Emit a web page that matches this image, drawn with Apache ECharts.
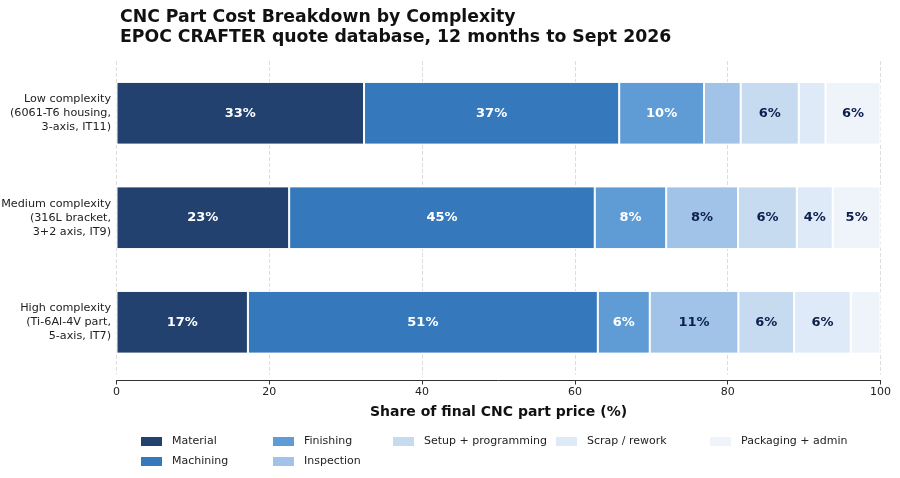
<!DOCTYPE html>
<html>
<head>
<meta charset="utf-8">
<script src="https://cdn.jsdelivr.net/npm/echarts@6/dist/echarts.min.js"></script>
<style>
html,body{margin:0;padding:0;background:#fff;}
#chart{width:900px;height:478px;}
</style>
</head>
<body>
<div id="chart"></div>
<script>
// Categories (top to bottom)
const categories = [
  "Low complexity\n(6061-T6 housing,\n3-axis, IT11)",
  "Medium complexity\n(316L bracket,\n3+2 axis, IT9)",
  "High complexity\n(Ti-6Al-4V part,\n5-axis, IT7)"
];
const seriesNames = ["Material", "Machining", "Finishing", "Inspection", "Setup + programming", "Scrap / rework", "Packaging + admin"];

// Segment widths (share of final price, %), order: Low, Medium, High
const material    = [32.4, 22.6, 17.2];
const machining   = [33.4, 40.0, 45.8];
const finishing   = [11.1, 9.35, 6.8];
const inspection  = [4.8, 9.4, 11.6];
const setupProg   = [7.6, 7.7, 7.3];
const scrapRework = [3.5, 4.7, 7.4];
const packaging   = [7.2, 6.25, 3.9];

// Printed labels as shown on the chart
const materialLabels    = ["33%", "23%", "17%"];
const machiningLabels   = ["37%", "45%", "51%"];
const finishingLabels   = ["10%", "8%", "6%"];
const inspectionLabels  = ["", "8%", "11%"];
const setupLabels       = ["6%", "6%", "6%"];
const scrapLabels       = ["", "4%", "6%"];
const packagingLabels   = ["6%", "5%", ""];

const xTicks = [0, 20, 40, 60, 80, 100];

const colors = ["#23416e", "#3579bc", "#5f9cd5", "#a0c3e7", "#c7dbf0", "#deeaf7", "#eff4fb"];
const labelColors = ["#ffffff", "#ffffff", "#ffffff", "#0d1f4f", "#0d1f4f", "#0d1f4f", "#0d1f4f"];

const values = [material, machining, finishing, inspection, setupProg, scrapRework, packaging];
const labels = [materialLabels, machiningLabels, finishingLabels, inspectionLabels, setupLabels, scrapLabels, packagingLabels];

const FONT = "DejaVu Sans";

const series = seriesNames.map((name, i) => ({
  name: name,
  type: "bar",
  stack: "total",
  barWidth: "60%",
  data: values[i].slice().reverse(),
  itemStyle: { color: colors[i], borderColor: "#ffffff", borderWidth: 1 },
  label: {
    show: true,
    position: "inside",
    fontFamily: FONT,
    fontWeight: "bold",
    fontSize: 13,
    color: labelColors[i],
    formatter: (p) => labels[i][categories.length - 1 - p.dataIndex]
  },
  emphasis: { disabled: true }
}));

const legendGroups = [
  { names: ["Material", "Machining"], left: 139 },
  { names: ["Finishing", "Inspection"], left: 271 },
  { names: ["Setup + programming"], left: 391 },
  { names: ["Scrap / rework"], left: 554 },
  { names: ["Packaging + admin"], left: 708 }
];

const legends = legendGroups.map(g => ({
  data: g.names,
  left: g.left,
  top: 435,
  orient: "vertical",
  itemWidth: 23,
  itemHeight: 11,
  itemGap: 7,
  padding: 0,
  icon: "rect",
  selectedMode: false,
  textStyle: { fontFamily: FONT, fontSize: 11, color: "#222", padding: [0, 0, 0, 4] }
}));

const chart = echarts.init(document.getElementById("chart"), null, { renderer: "canvas" });
chart.setOption({
  animation: false,
  backgroundColor: "#ffffff",
  color: colors,
  title: {
    text: "CNC Part Cost Breakdown by Complexity\nEPOC CRAFTER quote database, 12 months to Sept 2026",
    left: 115,
    top: 3,
    textStyle: { fontFamily: FONT, fontWeight: "bold", fontSize: 17.3, lineHeight: 20, color: "#111" }
  },
  legend: legends,
  grid: { left: 116.5, right: 19.5, top: 61, height: 313.5, containLabel: false, outerBoundsMode: "none" },
  xAxis: {
    type: "value",
    min: xTicks[0],
    max: xTicks[xTicks.length - 1],
    interval: 20,
    offset: 6,
    name: "Share of final CNC part price (%)",
    nameLocation: "middle",
    nameGap: 25,
    nameTextStyle: { fontFamily: FONT, fontWeight: "bold", fontSize: 14, color: "#111" },
    axisLine: { show: true, lineStyle: { color: "#333", width: 1 } },
    axisTick: { show: true, length: 4, lineStyle: { color: "#333" } },
    axisLabel: { fontFamily: FONT, fontSize: 11, color: "#222", margin: 6 },
    splitLine: { show: true, lineStyle: { type: "dashed", color: "#dddddd", width: 1 } }
  },
  yAxis: {
    type: "category",
    data: categories.slice().reverse(),
    axisLine: { show: false },
    axisTick: { show: false },
    axisLabel: { fontFamily: FONT, fontSize: 11.2, lineHeight: 14, color: "#222", margin: 5.5, align: "right" }
  },
  series: series
});
</script>
</body>
</html>
